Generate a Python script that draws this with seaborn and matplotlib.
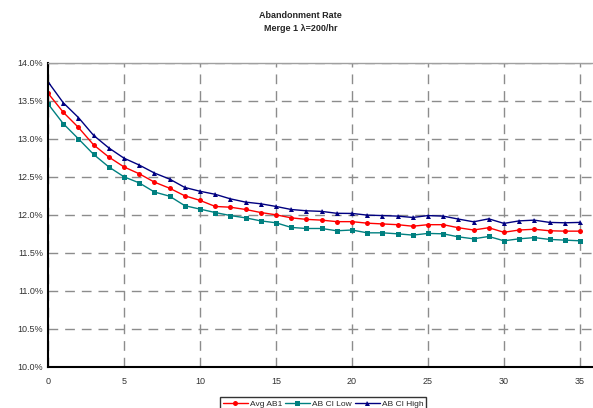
import numpy as np
import pandas as pd
import seaborn as sns
import matplotlib.pyplot as plt
from matplotlib.ticker import FuncFormatter, MultipleLocator

# abandonment rate (%) per interval
interval = list(range(36))
avg_ab1 = [13.60, 13.35, 13.15, 12.92, 12.76, 12.63, 12.54, 12.43, 12.35, 12.25,
           12.19, 12.11, 12.10, 12.07, 12.03, 12.00, 11.96, 11.94, 11.93, 11.91,
           11.91, 11.89, 11.88, 11.87, 11.85, 11.87, 11.87, 11.83, 11.80, 11.83,
           11.77, 11.80, 11.81, 11.79, 11.785, 11.785]
ci_low = [13.46, 13.20, 13.00, 12.795, 12.63, 12.50, 12.42, 12.30, 12.245, 12.12,
          12.075, 12.03, 11.99, 11.96, 11.92, 11.895, 11.834, 11.82, 11.82, 11.79,
          11.80, 11.763, 11.763, 11.75, 11.733, 11.755, 11.75, 11.71, 11.684, 11.715,
          11.658, 11.684, 11.70, 11.676, 11.667, 11.658]
ci_high = [13.75, 13.475, 13.28, 13.045, 12.88, 12.745, 12.655, 12.55, 12.47, 12.36,
           12.31, 12.27, 12.21, 12.167, 12.145, 12.11, 12.07, 12.053, 12.045, 12.02,
           12.018, 11.996, 11.99, 11.983, 11.965, 11.99, 11.983, 11.944, 11.908, 11.947,
           11.887, 11.92, 11.93, 11.90, 11.895, 11.90]
series = ["Avg AB1", "AB CI Low", "AB CI High"]

df = pd.DataFrame({
    "x": interval * 3,
    "rate": avg_ab1 + ci_low + ci_high,
    "series": [series[0]] * 36 + [series[1]] * 36 + [series[2]] * 36,
})

sns.set_style("white")
plt.rcParams["font.family"] = ["Liberation Sans", "DejaVu Sans"]

fig = plt.figure(figsize=(5.93, 4.08), dpi=100)
ax = fig.add_axes([0.081, 0.101, 0.919, 0.745])

palette = {"Avg AB1": "#ff0000", "AB CI Low": "#008080", "AB CI High": "#000080"}
markers = {"Avg AB1": "o", "AB CI Low": "s", "AB CI High": "^"}
sns.lineplot(data=df, x="x", y="rate", hue="series", style="series",
             palette=palette, markers=markers, dashes=False,
             markersize=3.6, linewidth=1, markeredgewidth=0, ax=ax, legend=True)

ax.set_xlim(0, 35.86)
ax.set_ylim(10.0, 14.0)
ax.xaxis.set_major_locator(MultipleLocator(5))
ax.yaxis.set_major_locator(MultipleLocator(0.5))
ax.yaxis.set_major_formatter(FuncFormatter(lambda v, p: f"{v:.1f}%"))
ax.grid(True, color="#8c8c8c", linestyle=(0, (7, 5)), linewidth=1)
ax.set_xlabel("")
ax.set_ylabel("")
ax.tick_params(axis="both", labelsize=6.5, length=3, width=1, color="black",
               direction="inout", labelcolor="#333333")
ax.tick_params(axis="x", pad=6)
ax.tick_params(axis="y", pad=2)
for s in ["left", "bottom"]:
    ax.spines[s].set_color("black")
    ax.spines[s].set_linewidth(1.5)
ax.spines["top"].set_color("#a0a0a0")
ax.spines["top"].set_linewidth(1)
ax.spines["right"].set_visible(False)

handles, labels = ax.get_legend_handles_labels()
ax.get_legend().remove()
leg = fig.legend(handles, labels, loc="upper center", ncol=3, fontsize=6,
                 frameon=True, edgecolor="black", fancybox=False,
                 handlelength=3, columnspacing=0.3, handletextpad=0.3, borderpad=0.3)
leg.set_bbox_to_anchor((0.545, 1 - 393 / 408), transform=fig.transFigure)

fig.text(0.507, 0.962, "Abandonment Rate", ha="center", va="center",
         fontsize=6.5, fontweight="bold")
fig.text(0.507, 0.93, "Merge 1 \u03bb=200/hr", ha="center", va="center",
         fontsize=6.5, fontweight="bold")

fig.savefig("out.png", dpi=100)
